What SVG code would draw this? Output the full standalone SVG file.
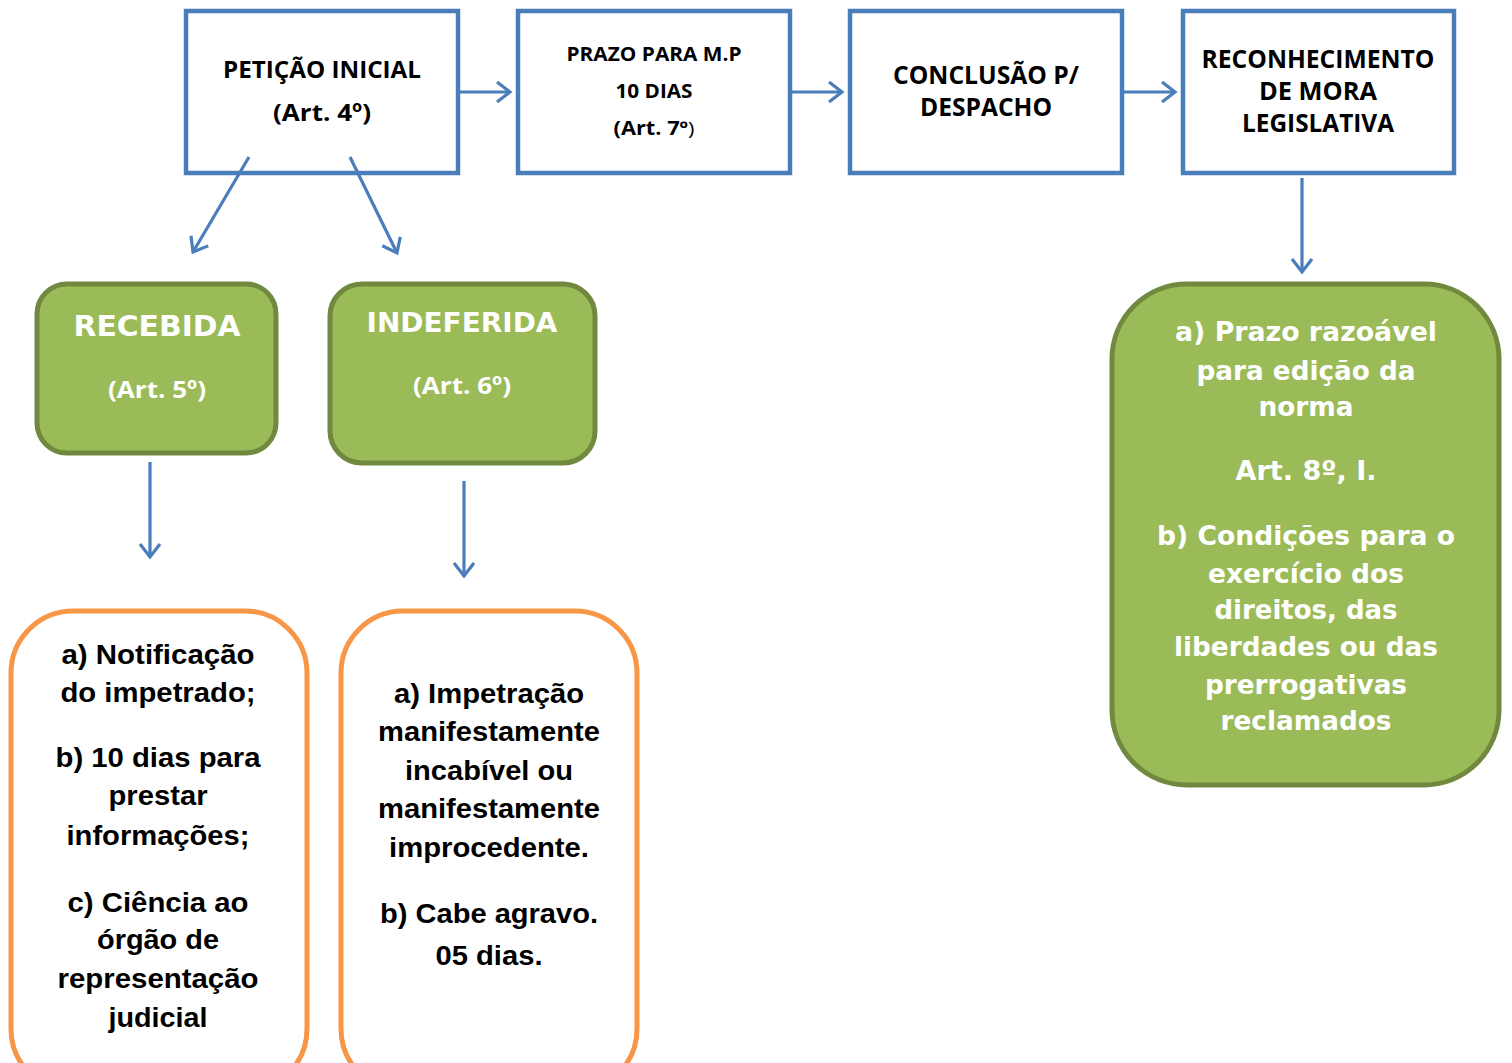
<svg xmlns="http://www.w3.org/2000/svg" width="1512" height="1063" viewBox="0 0 1512 1063">
<defs>
<style>
.box{fill:#fff;stroke:#4A7EBB;stroke-width:4.5}
.gbox{fill:#9BBB59;stroke:#71893F;stroke-width:5}
.obox{fill:#fff;stroke:#F79646;stroke-width:5}
.conn{stroke:#4A7EBB;stroke-width:3.2;fill:none;marker-end:url(#arr)}
.cal{font-family:"Open Sans",Lato,"Liberation Sans",sans-serif;font-weight:700;fill:#000;text-anchor:middle}
.calw{font-family:"Open Sans",Lato,"Liberation Sans",sans-serif;font-weight:700;fill:#fff;text-anchor:middle}
.ver{font-family:"DejaVu Sans",Verdana,sans-serif;font-weight:700;fill:#fff;text-anchor:middle}
.nar{font-family:"Liberation Sans",Arial,sans-serif;font-weight:700;fill:#000;text-anchor:middle;font-size:28px}
</style>
<marker id="arr" viewBox="-16 -13 20 26" refX="0" refY="0" markerWidth="20" markerHeight="26" markerUnits="userSpaceOnUse" orient="auto">
<path d="M-13,-10 L0,0 L-13,10" fill="none" stroke="#4A7EBB" stroke-width="3.2"/>
</marker>
</defs>
<rect width="1512" height="1063" fill="#fff"/>

<g id="peticao">
<rect class="box" x="186" y="11" width="272" height="162"/>
<text class="cal" x="322" y="78" font-size="24" textLength="198" lengthAdjust="spacingAndGlyphs">PETIÇÃO INICIAL</text>
<text class="cal" x="322" y="121" font-size="24" textLength="98" lengthAdjust="spacingAndGlyphs">(Art. 4º)</text>
</g>
<g id="prazo">
<rect class="box" x="518" y="11" width="272" height="162"/>
<text class="cal" x="654" y="61" font-size="19" textLength="175" lengthAdjust="spacingAndGlyphs">PRAZO PARA M.P</text>
<text class="cal" x="654" y="98" font-size="19" textLength="77" lengthAdjust="spacingAndGlyphs">10 DIAS</text>
<text class="cal" x="654" y="135" font-size="19" textLength="81" lengthAdjust="spacingAndGlyphs">(Art. 7º<tspan font-weight="400">)</tspan></text>
</g>
<g id="conclusao">
<rect class="box" x="850" y="11" width="272" height="162"/>
<text class="cal" x="986" y="84" font-size="25" textLength="186" lengthAdjust="spacingAndGlyphs">CONCLUSÃO P/</text>
<text class="cal" x="986" y="116" font-size="25" textLength="132" lengthAdjust="spacingAndGlyphs">DESPACHO</text>
</g>
<g id="reconhecimento">
<rect class="box" x="1183" y="11" width="271" height="162"/>
<text class="cal" x="1318" y="68" font-size="25" textLength="233" lengthAdjust="spacingAndGlyphs">RECONHECIMENTO</text>
<text class="cal" x="1318" y="100" font-size="25" textLength="118" lengthAdjust="spacingAndGlyphs">DE MORA</text>
<text class="cal" x="1318" y="132" font-size="25" textLength="152" lengthAdjust="spacingAndGlyphs">LEGISLATIVA</text>
</g>

<g id="recebida">
<rect class="gbox" x="37" y="284" width="239" height="169" rx="30"/>
<text class="ver" x="157" y="336" font-size="28" textLength="167" lengthAdjust="spacingAndGlyphs">RECEBIDA</text>
<text class="calw" x="157" y="398" font-size="24" textLength="98" lengthAdjust="spacingAndGlyphs">(Art. 5º)</text>
</g>
<g id="indeferida">
<rect class="gbox" x="330" y="284" width="265" height="179" rx="32"/>
<text class="ver" x="462" y="332" font-size="27" textLength="191" lengthAdjust="spacingAndGlyphs">INDEFERIDA</text>
<text class="calw" x="462" y="394" font-size="24" textLength="98" lengthAdjust="spacingAndGlyphs">(Art. 6º)</text>
</g>
<g id="mora-detalhes">
<rect class="gbox" x="1112" y="284" width="387" height="501" rx="75"/>
<g class="ver" font-size="26">
<text x="1306" y="341" textLength="262" lengthAdjust="spacingAndGlyphs">a) Prazo razoável</text>
<text x="1306" y="380" textLength="219" lengthAdjust="spacingAndGlyphs">para edição da</text>
<text x="1306" y="416" textLength="95" lengthAdjust="spacingAndGlyphs">norma</text>
<text x="1306" y="480" textLength="141" lengthAdjust="spacingAndGlyphs">Art. 8º, I.</text>
<text x="1306" y="545" textLength="298" lengthAdjust="spacingAndGlyphs">b) Condições para o</text>
<text x="1306" y="583" textLength="196" lengthAdjust="spacingAndGlyphs">exercício dos</text>
<text x="1306" y="619" textLength="183" lengthAdjust="spacingAndGlyphs">direitos, das</text>
<text x="1306" y="656" textLength="264" lengthAdjust="spacingAndGlyphs">liberdades ou das</text>
<text x="1306" y="694" textLength="202" lengthAdjust="spacingAndGlyphs">prerrogativas</text>
<text x="1306" y="730" textLength="171" lengthAdjust="spacingAndGlyphs">reclamados</text>
</g>
</g>

<g id="recebida-detalhes">
<rect class="obox" x="11" y="611" width="296" height="480" rx="62"/>
<g class="nar">
<text x="158" y="664" textLength="193" lengthAdjust="spacingAndGlyphs">a) Notificação</text>
<text x="158" y="702" textLength="195" lengthAdjust="spacingAndGlyphs">do impetrado;</text>
<text x="158" y="767" textLength="205" lengthAdjust="spacingAndGlyphs">b) 10 dias para</text>
<text x="158" y="805" textLength="99" lengthAdjust="spacingAndGlyphs">prestar</text>
<text x="158" y="845" textLength="183" lengthAdjust="spacingAndGlyphs">informações;</text>
<text x="158" y="912" textLength="181" lengthAdjust="spacingAndGlyphs">c) Ciência ao</text>
<text x="158" y="949" textLength="122" lengthAdjust="spacingAndGlyphs">órgão de</text>
<text x="158" y="988" textLength="201" lengthAdjust="spacingAndGlyphs">representação</text>
<text x="158" y="1027" textLength="99" lengthAdjust="spacingAndGlyphs">judicial</text>
</g>
</g>
<g id="indeferida-detalhes">
<rect class="obox" x="341" y="611" width="296" height="480" rx="62"/>
<g class="nar">
<text x="489" y="703" textLength="190" lengthAdjust="spacingAndGlyphs">a) Impetração</text>
<text x="489" y="741" textLength="222" lengthAdjust="spacingAndGlyphs">manifestamente</text>
<text x="489" y="780" textLength="168" lengthAdjust="spacingAndGlyphs">incabível ou</text>
<text x="489" y="818" textLength="222" lengthAdjust="spacingAndGlyphs">manifestamente</text>
<text x="489" y="857" textLength="200" lengthAdjust="spacingAndGlyphs">improcedente.</text>
<text x="489" y="923" textLength="218" lengthAdjust="spacingAndGlyphs">b) Cabe agravo.</text>
<text x="489" y="965" textLength="107" lengthAdjust="spacingAndGlyphs">05 dias.</text>
</g>
</g>

<g id="connectors">
<line class="conn" x1="459" y1="92" x2="510" y2="92"/>
<line class="conn" x1="791" y1="92" x2="842" y2="92"/>
<line class="conn" x1="1123" y1="92" x2="1175" y2="92"/>
<line class="conn" x1="249" y1="157" x2="193" y2="252"/>
<line class="conn" x1="350" y1="157" x2="397" y2="253"/>
<line class="conn" x1="1302" y1="178" x2="1302" y2="272"/>
<line class="conn" x1="150" y1="462" x2="150" y2="557"/>
<line class="conn" x1="464" y1="481" x2="464" y2="576"/>
</g>
</svg>
